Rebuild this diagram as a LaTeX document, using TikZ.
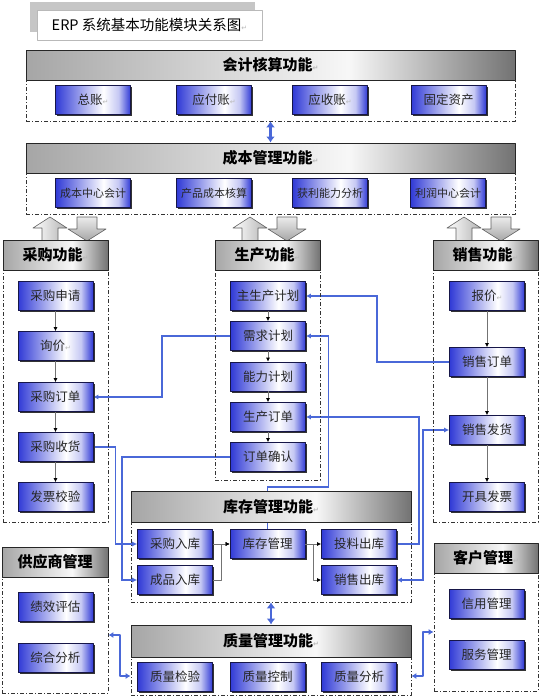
\documentclass[tikz,border=0pt]{standalone}
\usepackage{fontspec}
\setmainfont{Noto Sans CJK SC}
\newfontfamily\pmfont{DejaVu Sans}
\usetikzlibrary{arrows.meta,shadows,backgrounds}
\definecolor{boxblue}{RGB}{48,58,214}
\definecolor{boxedge}{RGB}{22,22,72}
\definecolor{linkblue}{RGB}{74,104,216}
\pgfdeclarehorizontalshading{boxshade}{100bp}{color(0bp)=(boxblue); color(25bp)=(boxblue); color(57bp)=(white); color(67bp)=(white!72!boxblue); color(75bp)=(boxblue); color(100bp)=(boxblue)}
\pgfdeclarehorizontalshading{headshade}{100bp}{color(0bp)=(gray!70); color(25bp)=(gray!70); color(58bp)=(gray!6); color(75bp)=(gray!90!black); color(100bp)=(gray!90!black)}
\newcommand\retmark{{\pmfont\color{gray!55}\fontsize{7}{7}\selectfont ↵}}
\tikzset{funcbox/.style={draw=boxedge,line width=.6pt,shading=boxshade,minimum width=75pt,minimum height=29pt,inner sep=0pt,text=black!85,font=\fontsize{12.5}{12.5}\selectfont,drop shadow={shadow xshift=1.6pt,shadow yshift=-1.6pt,fill=black!80,opacity=1}},
 headbar/.style={draw=black!85,line width=1pt,shading=headshade,minimum height=30pt,inner sep=0pt,font=\fontsize{15}{15}\selectfont\bfseries},
 groupbox/.style={draw=black!80,dash pattern=on 4pt off 2pt on 1pt off 2pt,line width=.7pt,inner sep=0pt},
 titlebox/.style={draw=gray!55,fill=white,minimum width=225pt,minimum height=30pt,font=\fontsize{14.5}{14.5}\selectfont,drop shadow={shadow xshift=-7pt,shadow yshift=8pt,fill=gray!45,opacity=1}},
 blockarrow/.style={draw=gray!75!black,line width=.6pt},
 flow/.style={draw=black!55,line width=.8pt,-{Latex[length=4pt,width=4pt,color=black]}},
 link/.style={draw=linkblue,line width=1.6pt,-{Latex[length=5pt,width=5pt]}},
 twolink/.style={draw=linkblue,line width=1.8pt,{Latex[length=5pt,width=6pt]}-{Latex[length=5pt,width=6pt]}},
 biglink/.style={draw=linkblue,line width=2.6pt,{Latex[length=6pt,width=9pt]}-{Latex[length=6pt,width=9pt]}},
 every picture/.style={line join=round}}

\begin{document}
\begin{tikzpicture}[x=1pt,y=-1pt]
\useasboundingbox (0,0) rectangle (541,697);
% title
\node[titlebox] (title) at (149.5,25) {ERP 系统基本功能模块关系图\retmark};
% accounting and cost
\node[groupbox,minimum width=489pt,minimum height=41pt] (accbox) at (270.5,100.5) {};
\node[headbar,minimum width=489pt] (acchead) at (270.5,65) {会计核算功能\retmark};
\node[funcbox] (ledger) at (93,100) {总账\retmark};
\node[funcbox] (payable) at (214,100) {应付账\retmark};
\node[funcbox] (receivable) at (330,100) {应收账\retmark};
\node[funcbox] (assets) at (448.5,100) {固定资产};
\node[groupbox,minimum width=489pt,minimum height=41pt] (costbox) at (270.5,193.5) {};
\node[headbar,minimum width=489pt] (costhead) at (270.5,158) {成本管理功能\retmark};
\node[funcbox,font=\fontsize{11}{11}\selectfont] (costcenter) at (93,193) {成本中心会计};
\node[funcbox,font=\fontsize{11}{11}\selectfont] (prodcost) at (214,193) {产品成本核算};
\node[funcbox,font=\fontsize{11}{11}\selectfont] (profit) at (330,193) {获利能力分析};
\node[funcbox,font=\fontsize{11}{11}\selectfont] (profitcenter) at (448,193) {利润中心会计};
% block arrows
\foreach \bx in {33,233,447} {
  \path[blockarrow,left color=white,right color=gray!60] (\bx+9,241) -- (\bx+9,228) -- (\bx,228) -- (\bx+17,217) -- (\bx+34,228) -- (\bx+25,228) -- (\bx+25,241) -- cycle;
  \path[blockarrow,top color=gray!15,bottom color=gray!70] (\bx+44,217) -- (\bx+64,217) -- (\bx+64,229) -- (\bx+73,229) -- (\bx+54,241) -- (\bx+35,229) -- (\bx+44,229) -- cycle;
}
% purchasing
\node[groupbox,minimum width=105pt,minimum height=252pt] (buybox) at (55.5,396) {};
\node[headbar,minimum width=105pt] (buyhead) at (55.5,255) {采购功能\retmark};
\node[funcbox] (buyreq) at (55.5,296) {采购申请};
\node[funcbox] (inquiry) at (55.5,346) {询价\retmark};
\node[funcbox] (buyorder) at (55.5,397) {采购订单};
\node[funcbox] (buyrecv) at (55.5,447) {采购收货};
\node[funcbox] (invoice) at (55.5,497) {发票校验};
% production
\node[groupbox,minimum width=105pt,minimum height=210pt] (makebox) at (267.5,375) {};
\node[headbar,minimum width=105pt] (makehead) at (267.5,255) {生产功能\retmark};
\node[funcbox] (mps) at (268,296) {主生产计划};
\node[funcbox] (need) at (268,336) {需求计划};
\node[funcbox] (capacity) at (268,376.5) {能力计划};
\node[funcbox] (makeorder) at (268,417) {生产订单};
\node[funcbox] (confirm) at (268,457) {订单确认};
% sales
\node[groupbox,minimum width=105pt,minimum height=252pt] (sellbox) at (485.5,396) {};
\node[headbar,minimum width=105pt] (sellhead) at (485.5,255) {销售功能\retmark};
\node[funcbox] (quote) at (487,296) {报价\retmark};
\node[funcbox] (sellorder) at (487,362) {销售订单};
\node[funcbox] (ship) at (487,430) {销售发货};
\node[funcbox] (billing) at (487,497) {开具发票};
% inventory
\node[groupbox,minimum width=280pt,minimum height=80pt] (stockbox) at (271,562) {};
\node[headbar,minimum width=280pt,minimum height=31pt] (stockhead) at (271,506.5) {库存管理功能\retmark};
\node[funcbox] (inbuy) at (175,544) {采购入库};
\node[funcbox] (inmade) at (175,580) {成品入库};
\node[funcbox] (stockmgr) at (267.5,544) {库存管理};
\node[funcbox] (feedout) at (359,544) {投料出库};
\node[funcbox] (saleout) at (359,580) {销售出库};
% quality
\node[groupbox,minimum width=280pt,minimum height=38pt] (qualbox) at (271,676) {};
\node[headbar,minimum width=280pt,minimum height=32pt] (qualhead) at (271,641) {质量管理功能\retmark};
\node[funcbox] (qcheck) at (175,677) {质量检验};
\node[funcbox] (qcontrol) at (267.5,677) {质量控制};
\node[funcbox] (qanalysis) at (359,677) {质量分析};
% suppliers and customers
\node[groupbox,minimum width=106pt,minimum height=116pt] (supbox) at (55,635) {};
\node[headbar,minimum width=106pt] (suphead) at (55,562) {供应商管理};
\node[funcbox] (rating) at (55.5,607) {绩效评估};
\node[funcbox] (overall) at (55.5,657.5) {综合分析};
\node[groupbox,minimum width=104pt,minimum height=118pt] (custbox) at (486,632) {};
\node[headbar,minimum width=104pt] (custhead) at (486,558) {客户管理\retmark};
\node[funcbox] (credit) at (486.5,604) {信用管理};
\node[funcbox] (service) at (486.5,655) {服务管理};
% flows inside the columns
\foreach \a/\b in {buyreq/inquiry,inquiry/buyorder,buyorder/buyrecv,buyrecv/invoice,mps/need,need/capacity,capacity/makeorder,makeorder/confirm,quote/sellorder,sellorder/ship,ship/billing}
  \draw[flow] (\a) -- (\b);
\draw[flow] (inbuy) -- (stockmgr);
\draw[flow] (inmade.east) -- ++(9,0) |- (stockmgr.west);
\draw[flow] (stockmgr) -- (feedout);
\draw[flow] (stockmgr.east) -- ++(8,0) |- (saleout.west);
% links between modules
\begin{scope}[on background layer]
\draw[link] (need.west) -- ++(-68,0) |- (buyorder.east);
\draw[link] (sellorder.west) -- ++(-72,0) |- (mps.east);
\draw[link] (stockmgr.north) -- ++(0,-42) -- ++(61,0) |- (need.east);
\draw[link] (buyrecv.east) -- ++(22,0) |- (inbuy.west);
\draw[link] (confirm.west) -- ++(-108,0) |- (inmade.west);
\draw[link] (feedout.east) -- ++(22,0) |- (makeorder.east);
\draw[link,{Latex[length=5pt,width=5pt]}-{Latex[length=5pt,width=5pt]}] (saleout.east) -- ++(26,0) |- (ship.west);
\end{scope}
\draw[biglink] (accbox.south) -- (costhead.north);
\draw[biglink] (stockbox.south) -- (qualhead.north);
\draw[twolink] (supbox.east) -- ++(12,0) |- (qualbox.west);
\draw[twolink] (qualbox.east) -- ++(12,0) |- (custbox.west);
\end{tikzpicture}
\end{document}
